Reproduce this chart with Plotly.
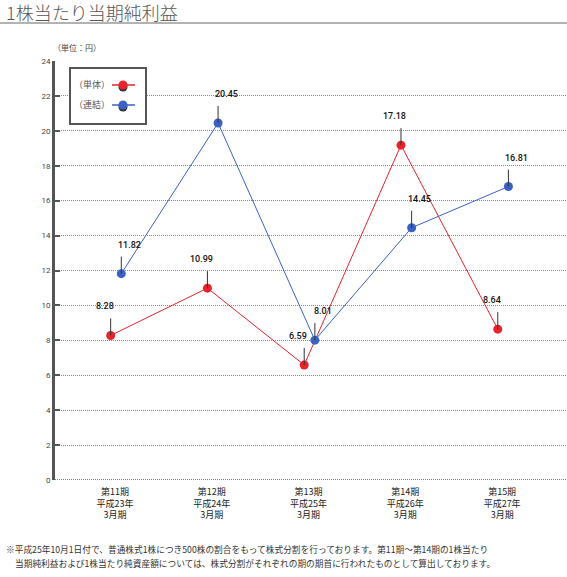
import plotly.graph_objects as go

# ---- data ----
categories = ["第11期<br>平成23年<br>3月期", "第12期<br>平成24年<br>3月期", "第13期<br>平成25年<br>3月期",
              "第14期<br>平成26年<br>3月期", "第15期<br>平成27年<br>3月期"]
tantai_values = [8.28, 10.99, 6.59, 19.18, 8.64]      # plotted positions as drawn in the picture
tantai_labels = ["8.28", "10.99", "6.59", "17.18", "8.64"]
renketsu_values = [11.82, 20.45, 8.01, 14.45, 16.81]
renketsu_labels = ["11.82", "20.45", "8.01", "14.45", "16.81"]
y_ticks = [0, 2, 4, 6, 8, 10, 12, 14, 16, 18, 20, 22, 24]

RED = "#e8232b"
BLUE = "#3a62c4"
FONT_JP = "Noto Sans CJK JP"

W, H = 567, 577
ML, MR, MT, MB = 55, 1, 61, 97
PW, PH = W - ML - MR, H - MT - MB


def px(x):
    return (x - ML) / PW


def py(y):
    return (H - MB - y) / PH


idx = list(range(len(categories)))
x_red = [i - 0.045 for i in idx]
x_blue = [i + 0.065 for i in idx]

fig = go.Figure()
fig.add_trace(go.Scatter(x=x_red, y=tantai_values, mode="lines+markers", name="単体",
                         line=dict(color=RED, width=1), marker=dict(color=RED, size=9),
                         hoverinfo="skip", showlegend=False))
fig.add_trace(go.Scatter(x=x_blue, y=renketsu_values, mode="lines+markers", name="連結",
                         line=dict(color=BLUE, width=1), marker=dict(color=BLUE, size=9),
                         hoverinfo="skip", showlegend=False))

annotations = []
for xs, vals, labs, shift in [(x_red, tantai_values, tantai_labels, -6),
                               (x_blue, renketsu_values, renketsu_labels, 8)]:
    for x, v, lab in zip(xs, vals, labs):
        annotations.append(dict(x=x, y=v, xref="x", yref="y", text=" ", font=dict(size=1),
                                showarrow=True, arrowhead=0, arrowwidth=1, arrowcolor="#333",
                                ax=0, ay=-19, standoff=0))
        annotations.append(dict(x=x, y=v, xref="x", yref="y", text=lab, showarrow=False,
                                xshift=shift, yshift=29, xanchor="center", yanchor="middle",
                                font=dict(family="Roboto", size=9, color="#111", weight=500)))


def paper_text(x, y, text, size, color, xanchor="left", weight=None):
    f = dict(family=FONT_JP, size=size, color=color)
    if weight:
        f["weight"] = weight
    return dict(x=px(x), y=py(y), xref="paper", yref="paper", xanchor=xanchor, yanchor="middle",
                text=text, showarrow=False, font=f)


# title, unit, footnote
annotations.append(paper_text(4, 12, "1株当たり当期純利益", 18, "#555", weight=300))
annotations.append(paper_text(51, 48, "（単位：円）", 8, "#444"))
annotations.append(paper_text(4, 549,
                              "※平成25年10月1日付で、普通株式1株につき500株の割合をもって株式分割を行っております。第11期～第14期の1株当たり",
                              8.7, "#333"))
annotations.append(paper_text(13, 563,
                              "当期純利益および1株当たり純資産額については、株式分割がそれぞれの期の期首に行われたものとして算出しております。",
                              8.7, "#333"))
# legend texts
annotations.append(paper_text(92, 85, "（単体）", 9, "#555", xanchor="center"))
annotations.append(paper_text(92, 105, "（連結）", 9, "#555", xanchor="center"))

shapes = []
# title underline
shapes.append(dict(type="line", xref="paper", yref="paper", x0=px(0), x1=px(567), y0=py(23), y1=py(23),
                   line=dict(color="#666", width=1)))
# bottom axis dotted line
shapes.append(dict(type="line", xref="paper", yref="y", x0=0, x1=1, y0=0, y1=0,
                   line=dict(color="#555", width=1.5, dash="1px,1px")))
# legend box
shapes.append(dict(type="rect", xref="paper", yref="paper", x0=px(70), x1=px(146), y0=py(68), y1=py(124),
                   line=dict(color="#555", width=2), fillcolor="white"))
for yy, col in [(85, RED), (105, BLUE)]:
    shapes.append(dict(type="line", xref="paper", yref="paper", x0=px(112), x1=px(135), y0=py(yy), y1=py(yy),
                       line=dict(color=col, width=1.5)))
    shapes.append(dict(type="circle", xref="paper", yref="paper", x0=px(118.5), x1=px(127.5),
                       y0=py(yy + 6.5), y1=py(yy - 2.5), line=dict(width=0), fillcolor="#333"))
    shapes.append(dict(type="circle", xref="paper", yref="paper", x0=px(118.5), x1=px(127.5),
                       y0=py(yy + 4.5), y1=py(yy - 4.5), line=dict(width=0), fillcolor=col))

fig.update_layout(
    width=W, height=H, margin=dict(l=ML, r=MR, t=MT, b=MB),
    paper_bgcolor="white", plot_bgcolor="white",
    annotations=annotations, shapes=shapes,
    xaxis=dict(range=[-0.62, 4.66], tickmode="array", tickvals=idx, ticktext=categories,
               showgrid=False, zeroline=False, showline=False, ticks="", ticklabelstandoff=5,
               tickfont=dict(family=FONT_JP, size=9, color="#222")),
    yaxis=dict(range=[0, 24], tickmode="array", tickvals=y_ticks, ticktext=[str(t) for t in y_ticks],
               showgrid=True, gridcolor="#888", griddash="1px,1px", gridwidth=1, zeroline=False,
               showline=True, linecolor="#555", linewidth=3, ticks="inside", ticklen=5,
               tickwidth=2, tickcolor="#555",
               tickfont=dict(family="Roboto", size=8, color="#444")),
)

fig.write_html("out.html")
